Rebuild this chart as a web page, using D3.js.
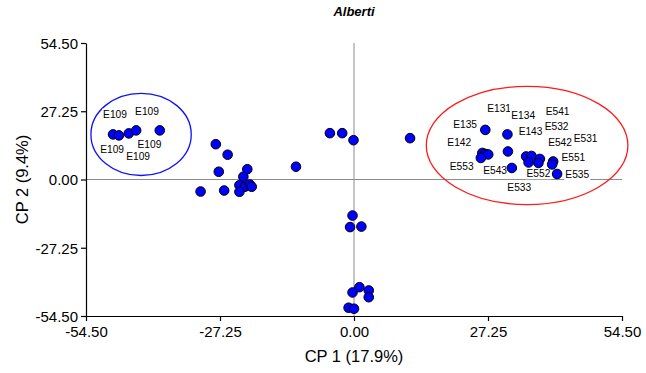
<!DOCTYPE html>
<html>
<head>
<meta charset="utf-8">
<script src="https://cdn.jsdelivr.net/npm/d3@7"></script>
<style>
  body { margin: 0; background: #fff; }
  svg { font-family: "Liberation Sans", Arial, sans-serif; }
</style>
</head>
<body>
<div id="chart"></div>
<script>
// data
const TITLE = "Alberti";
const X_TITLE = "CP 1 (17.9%)";
const Y_TITLE = "CP 2 (9.4%)";
const TICKS = [-54.5, -27.25, 0, 27.25, 54.5];

const point_x = [
  -49.0, -47.8, -45.8, -44.3, -39.5,
  26.7, 31.2, 26.1, 26.7, 27.3, 25.8, 31.3, 32.1, 35.0, 36.1, 35.5, 37.8, 37.5, 40.5, 40.3, 41.3,
  -28.1, -25.7, -27.5, -21.7, -22.5, -23.3, -22.2, -21.2, -20.8, -31.2, -26.4, -23.3,
  -11.8, -4.9, -2.4, -0.1, 11.4,
  -0.3, -0.8, 1.5, 1.1, -0.3, 3.0, 3.0, -1.1, 0.0
];
const point_y = [
  18.0, 17.6, 18.4, 19.6, 19.6,
  19.8, 18.0, 10.6, 10.2, 10.0, 8.6, 11.2, 4.6, 9.2, 9.4, 6.8, 8.2, 6.6, 7.2, 6.0, 2.2,
  14.1, 9.9, 3.1, 4.1, 1.1, -2.3, -2.9, -2.0, -2.9, -4.8, -4.4, -4.9,
  5.1, 18.5, 18.5, 15.7, 16.5,
  -14.4, -19.0, -18.8, -43.0, -45.1, -44.3, -47.0, -51.2, -51.6
];

const label_text = [
  "E109", "E109", "E109", "E109", "E109",
  "E131", "E134", "E541", "E135", "E532", "E143", "E531", "E142",
  "E542", "E551", "E553", "E543", "E552", "E535", "E533"
];
const label_x = [
  -48.6, -42.1, -49.2, -41.6, -43.9,
  29.5, 34.4, 41.4, 22.6, 41.2, 35.9, 47.1, 21.4,
  41.9, 44.6, 21.9, 28.7, 37.5, 45.4, 33.6
];
const label_y = [
  25.9, 27.1, 12.0, 13.9, 9.3,
  28.2, 25.5, 27.3, 21.8, 21.2, 19.2, 16.5, 14.8,
  14.8, 8.7, 5.2, 3.6, 2.5, 1.9, -3.3
];

// group ellipses: centre and radii in data units
const ellipse_cx = [-43.3, 35.2];
const ellipse_cy = [18.0, 13.6];
const ellipse_rx = [10.2, 20.5];
const ellipse_ry = [16.4, 23.6];
const ellipse_color = ["#1010ff", "#ff1a1a"];

const WIDTH = 646;
const HEIGHT = 373;
const MARGIN = { top: 43, right: 24, bottom: 57, left: 86 };

const svg = d3.select("#chart")
    .append("svg")
    .attr("width", WIDTH)
    .attr("height", HEIGHT);

const xScale = d3.scaleLinear()
    .domain([-54.5, 54.5])
    .range([MARGIN.left, WIDTH - MARGIN.right]);

const yScale = d3.scaleLinear()
    .domain([-54.5, 54.5])
    .range([HEIGHT - MARGIN.bottom, MARGIN.top]);

// plain hyphen for negatives, like the original
const fmt = d => d3.format(".2f")(d).replace("\u2212", "-");

// zero lines
svg.append("line")
    .attr("x1", xScale(-54.5)).attr("x2", xScale(54.5))
    .attr("y1", yScale(0)).attr("y2", yScale(0))
    .attr("stroke", "#8c8c8c").attr("stroke-width", 1);

svg.append("line")
    .attr("x1", xScale(0)).attr("x2", xScale(0))
    .attr("y1", yScale(54.5)).attr("y2", yScale(-54.5))
    .attr("stroke", "#8c8c8c").attr("stroke-width", 1);

// axes
const xAxis = d3.axisBottom(xScale)
    .tickValues(TICKS)
    .tickFormat(fmt)
    .tickSize(5)
    .tickSizeOuter(0);

const yAxis = d3.axisLeft(yScale)
    .tickValues(TICKS)
    .tickFormat(fmt)
    .tickSize(5)
    .tickSizeOuter(0);

const gx = svg.append("g")
    .attr("transform", `translate(0, ${HEIGHT - MARGIN.bottom})`)
    .call(xAxis);

const gy = svg.append("g")
    .attr("transform", `translate(${MARGIN.left}, 0)`)
    .call(yAxis);

[gx, gy].forEach(g => {
    g.select(".domain").attr("stroke", "#000").attr("stroke-width", 1.2);
    g.selectAll(".tick line").attr("stroke", "#000").attr("stroke-width", 1.2);
    g.selectAll(".tick text")
        .attr("fill", "#000")
        .style("font-size", "15px")
        .style("font-family", "'Liberation Sans', Arial, sans-serif");
});
gx.selectAll(".tick text").attr("dy", "0.85em");
gy.selectAll(".tick text").attr("x", -8).attr("dy", "0.36em");

// titles
svg.append("text")
    .attr("x", xScale(0))
    .attr("y", 16)
    .attr("text-anchor", "middle")
    .style("font-size", "13px")
    .style("font-weight", "bold")
    .style("font-style", "italic")
    .text(TITLE);

svg.append("text")
    .attr("x", xScale(0))
    .attr("y", 362)
    .attr("text-anchor", "middle")
    .style("font-size", "16.5px")
    .text(X_TITLE);

svg.append("text")
    .attr("transform", `translate(28, ${yScale(0)}) rotate(-90)`)
    .attr("text-anchor", "middle")
    .style("font-size", "16.5px")
    .text(Y_TITLE);

// ellipses
svg.selectAll(".group")
    .data(d3.range(ellipse_cx.length))
    .enter()
    .append("ellipse")
    .attr("class", "group")
    .attr("cx", i => xScale(ellipse_cx[i]))
    .attr("cy", i => yScale(ellipse_cy[i]))
    .attr("rx", i => xScale(ellipse_rx[i]) - xScale(0))
    .attr("ry", i => yScale(0) - yScale(ellipse_ry[i]))
    .attr("fill", "none")
    .attr("stroke", i => ellipse_color[i])
    .attr("stroke-width", 1.3);

// point labels with white box behind
const labels = svg.selectAll(".lbl")
    .data(d3.range(label_text.length))
    .enter()
    .append("g")
    .attr("class", "lbl")
    .attr("transform", i => `translate(${xScale(label_x[i])}, ${yScale(label_y[i])})`);

labels.append("rect")
    .attr("x", -13).attr("y", -6)
    .attr("width", 26).attr("height", 12)
    .attr("fill", "#fff");

labels.append("text")
    .attr("text-anchor", "middle")
    .attr("dy", "0.35em")
    .style("font-size", "10.2px")
    .text(i => label_text[i]);

// points
svg.selectAll(".pt")
    .data(d3.range(point_x.length))
    .enter()
    .append("circle")
    .attr("class", "pt")
    .attr("cx", i => xScale(point_x[i]))
    .attr("cy", i => yScale(point_y[i]))
    .attr("r", 4.8)
    .attr("fill", "#0000ff")
    .attr("stroke", "#000")
    .attr("stroke-width", 1);
</script>
</body>
</html>
